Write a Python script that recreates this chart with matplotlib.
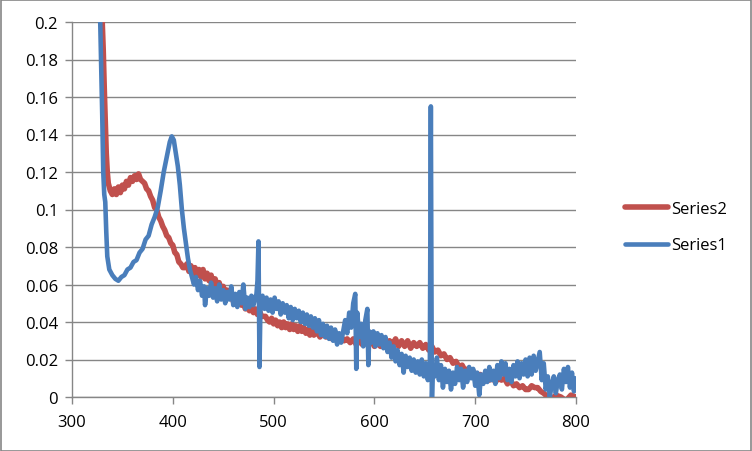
import matplotlib
matplotlib.use("Agg")
import matplotlib.pyplot as plt
from matplotlib.patches import Rectangle

# ---- data ----
s1_x = [328, 329, 330, 331, 332, 333, 334, 335, 337, 340, 343, 346, 349, 352, 355, 358,
        361, 364, 367, 370, 373, 376, 379, 382, 385, 388, 391, 394, 397, 399, 401, 403,
        405, 407, 409, 411, 413, 415, 417, 419, 421, 423, 425, 427, 429, 431, 432, 434,
        436, 438, 440, 442, 444, 446, 448, 450, 452, 454, 456, 458, 460, 462, 464, 466,
        468, 470, 472, 474, 476, 478, 480, 482, 483, 484, 485, 486, 487, 489, 491, 493,
        495, 497, 499, 501, 503, 505, 507, 509, 511, 513, 515, 517, 519, 521, 523, 525,
        527, 529, 531, 533, 535, 537, 539, 541, 543, 545, 547, 549, 551, 553, 555, 557,
        559, 561, 563, 565, 567, 569, 571, 573, 575, 577, 579, 581, 582, 583, 585, 587,
        589, 591, 593, 594, 595, 597, 599, 601, 603, 605, 607, 609, 611, 613, 615, 617,
        619, 621, 623, 625, 627, 629, 631, 633, 635, 637, 639, 641, 643, 645, 647, 649,
        651, 653, 655, 656, 657, 658, 660, 662, 664, 666, 668, 670, 672, 674, 676, 678,
        680, 682, 684, 686, 688, 690, 692, 694, 696, 698, 700, 702, 704, 706, 708, 710,
        712, 714, 716, 718, 720, 722, 724, 726, 728, 730, 732, 734, 736, 738, 740, 742,
        744, 746, 748, 750, 752, 754, 756, 758, 760, 762, 764, 766, 768, 770, 772, 774,
        776, 778, 780, 782, 784, 786, 788, 790, 792, 794, 796, 798, 800]
s1_y = [0.200, 0.175, 0.150, 0.120, 0.108, 0.104, 0.088, 0.075, 0.068, 0.065, 0.063, 0.062,
        0.064, 0.065, 0.068, 0.069, 0.072, 0.073, 0.077, 0.079, 0.084, 0.086, 0.092, 0.096,
        0.101, 0.110, 0.120, 0.128, 0.136, 0.139, 0.137, 0.130, 0.123, 0.113, 0.100, 0.090,
        0.082, 0.074, 0.068, 0.064, 0.060, 0.064, 0.057, 0.062, 0.054, 0.059, 0.049, 0.058,
        0.054, 0.061, 0.053, 0.058, 0.051, 0.060, 0.052, 0.057, 0.050, 0.056, 0.052, 0.059,
        0.049, 0.055, 0.048, 0.056, 0.050, 0.060, 0.047, 0.053, 0.048, 0.054, 0.049, 0.053,
        0.055, 0.062, 0.083, 0.016, 0.050, 0.054, 0.047, 0.053, 0.046, 0.052, 0.045, 0.053,
        0.047, 0.051, 0.044, 0.050, 0.045, 0.049, 0.042, 0.048, 0.041, 0.047, 0.042, 0.046,
        0.040, 0.045, 0.039, 0.044, 0.038, 0.043, 0.037, 0.042, 0.035, 0.041, 0.033, 0.039,
        0.032, 0.038, 0.031, 0.037, 0.030, 0.036, 0.028, 0.034, 0.029, 0.035, 0.041, 0.034,
        0.045, 0.037, 0.050, 0.055, 0.015, 0.045, 0.032, 0.039, 0.027, 0.041, 0.047, 0.017,
        0.035, 0.029, 0.035, 0.027, 0.034, 0.028, 0.033, 0.026, 0.032, 0.024, 0.029, 0.021,
        0.027, 0.019, 0.025, 0.017, 0.023, 0.013, 0.022, 0.016, 0.021, 0.014, 0.020, 0.013,
        0.019, 0.012, 0.020, 0.011, 0.018, 0.009, 0.016, 0.155, -0.005, 0.015, 0.011, 0.021,
        0.009, 0.017, 0.005, 0.015, 0.008, 0.014, 0.004, 0.013, 0.007, 0.016, 0.009, 0.015,
        0.005, 0.014, 0.008, 0.016, 0.010, 0.015, 0.006, 0.013, 0.001, 0.012, 0.007, 0.014,
        0.008, 0.016, 0.009, 0.014, 0.007, 0.017, 0.010, 0.019, 0.012, 0.018, 0.009, 0.015,
        0.008, 0.017, 0.011, 0.019, 0.010, 0.018, 0.012, 0.020, 0.011, 0.021, 0.012, 0.022,
        0.014, 0.019, 0.024, 0.009, 0.018, 0.004, 0.011, 0.000, 0.007, 0.011, 0.002, 0.009,
        0.012, 0.004, 0.015, 0.008, 0.016, 0.005, 0.013, 0.003, 0.010]

s2_x = [330, 331, 332, 333, 334, 335, 336, 338, 340, 342, 344, 346, 348, 350, 352, 354,
        356, 358, 360, 362, 364, 366, 368, 370, 372, 374, 376, 378, 380, 382, 384, 386,
        388, 390, 392, 394, 396, 398, 400, 402, 404, 406, 408, 410, 412, 414, 416, 418,
        420, 422, 424, 426, 428, 430, 432, 434, 436, 438, 440, 442, 444, 446, 448, 450,
        452, 454, 456, 458, 460, 462, 464, 466, 468, 470, 472, 474, 476, 478, 480, 482,
        484, 486, 488, 490, 492, 494, 496, 498, 500, 502, 504, 506, 508, 510, 512, 514,
        516, 518, 520, 522, 524, 526, 528, 530, 532, 534, 536, 538, 540, 543, 546, 549,
        552, 555, 558, 561, 564, 567, 570, 573, 576, 579, 582, 585, 588, 591, 594, 597,
        600, 603, 606, 609, 612, 615, 618, 621, 624, 627, 630, 633, 636, 639, 642, 645,
        648, 651, 654, 657, 660, 663, 666, 669, 672, 675, 678, 681, 684, 687, 690, 693,
        696, 699, 702, 705, 708, 711, 714, 717, 720, 723, 726, 729, 732, 735, 738, 741,
        744, 747, 750, 753, 756, 759, 762, 765, 768, 772, 776, 780, 785, 790, 795, 800]
s2_y = [0.200, 0.185, 0.165, 0.148, 0.130, 0.120, 0.114, 0.110, 0.108, 0.111, 0.108, 0.112,
        0.109, 0.113, 0.111, 0.115, 0.113, 0.117, 0.115, 0.118, 0.116, 0.119, 0.116, 0.115,
        0.114, 0.111, 0.110, 0.107, 0.105, 0.101, 0.100, 0.096, 0.094, 0.091, 0.089, 0.086,
        0.085, 0.082, 0.081, 0.077, 0.076, 0.072, 0.071, 0.069, 0.069, 0.071, 0.067, 0.070,
        0.066, 0.069, 0.065, 0.068, 0.064, 0.068, 0.063, 0.066, 0.062, 0.065, 0.060, 0.063,
        0.059, 0.061, 0.057, 0.059, 0.055, 0.057, 0.053, 0.055, 0.051, 0.053, 0.050, 0.052,
        0.049, 0.050, 0.047, 0.049, 0.046, 0.048, 0.045, 0.047, 0.044, 0.046, 0.043, 0.043,
        0.043, 0.041, 0.040, 0.042, 0.039, 0.041, 0.038, 0.040, 0.037, 0.040, 0.037, 0.039,
        0.036, 0.039, 0.036, 0.038, 0.035, 0.038, 0.035, 0.037, 0.034, 0.036, 0.033, 0.036,
        0.033, 0.035, 0.032, 0.034, 0.032, 0.034, 0.031, 0.033, 0.030, 0.032, 0.030, 0.031,
        0.029, 0.031, 0.028, 0.030, 0.028, 0.030, 0.028, 0.030, 0.027, 0.029, 0.027, 0.029,
        0.028, 0.030, 0.028, 0.031, 0.027, 0.030, 0.027, 0.030, 0.026, 0.029, 0.027, 0.029,
        0.026, 0.028, 0.025, 0.027, 0.024, 0.025, 0.022, 0.023, 0.020, 0.021, 0.018, 0.019,
        0.016, 0.017, 0.014, 0.015, 0.012, 0.013, 0.011, 0.012, 0.010, 0.011, 0.009, 0.011,
        0.008, 0.010, 0.009, 0.010, 0.007, 0.009, 0.006, 0.007, 0.005, 0.006, 0.004, 0.004,
        0.006, 0.005, 0.005, 0.003, 0.002, 0.000, -0.001, 0.001, 0.000, -0.002, 0.001, 0.000]

x_ticks = [300, 400, 500, 600, 700, 800]
y_ticks = [0, 0.02, 0.04, 0.06, 0.08, 0.1, 0.12, 0.14, 0.16, 0.18, 0.2]
y_labels = ["0", "0.02", "0.04", "0.06", "0.08", "0.1", "0.12", "0.14", "0.16", "0.18", "0.2"]
series_names = ["Series2", "Series1"]

# ---- drawing ----
plt.rcParams['font.family'] = ['Open Sans', 'DejaVu Sans']
W, H = 752, 452
fig = plt.figure(figsize=(W / 100, H / 100), dpi=100)
ax = fig.add_axes([72 / W, 1 - 398 / H, (576 - 72) / W, (398 - 23) / H])

grid_c = "#868686"
red = "#C0504D"
blue = "#4A7EBB"

l2, = ax.plot(s2_x, s2_y, color=red, lw=4.0, solid_capstyle="round",
              solid_joinstyle="round", label=series_names[0], zorder=3)
l1, = ax.plot(s1_x, s1_y, color=blue, lw=3.3, solid_capstyle="round",
              solid_joinstyle="round", label=series_names[1], zorder=4)

ax.set_xlim(300, 800)
ax.set_ylim(0, 0.2)
ax.set_xticks(x_ticks)
ax.set_xticklabels([str(v) for v in x_ticks])
ax.set_yticks(y_ticks)
ax.set_yticklabels(y_labels)
ax.yaxis.grid(True, color=grid_c, lw=1)
ax.set_axisbelow(True)
for side in ["top", "right"]:
    ax.spines[side].set_visible(False)
for side in ["left", "bottom"]:
    ax.spines[side].set_color(grid_c)
    ax.spines[side].set_linewidth(1)
ax.tick_params(axis="both", colors=grid_c, length=5, width=1, direction="out",
               labelsize=12, labelcolor="black")
ax.tick_params(axis="y", pad=5)
ax.tick_params(axis="x", pad=7)

leg = fig.legend(handles=[l2, l1], loc="center left",
                 bbox_to_anchor=(610 / W, 1 - 228 / H), frameon=False,
                 fontsize=12, handlelength=2.6, labelspacing=1.25, handletextpad=0.15)

fig.patches.append(Rectangle((0.5 / W, 0.5 / H), 1 - 1.5 / W, 1 - 1.5 / H,
                             transform=fig.transFigure, fill=False,
                             edgecolor=grid_c, lw=1.2))

fig.savefig("out.png", dpi=100)
